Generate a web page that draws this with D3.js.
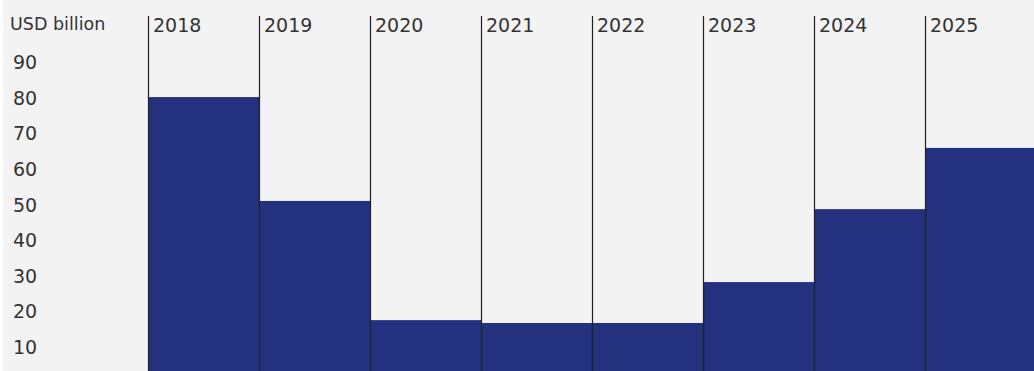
<!DOCTYPE html>
<html>
<head>
<meta charset="utf-8">
<script src="https://cdn.jsdelivr.net/npm/d3@7"></script>
<style>
  body { margin: 0; background: #fff; }
  svg { display: block; font-family: "DejaVu Sans", Verdana, sans-serif; }
</style>
</head>
<body>
<script>
let width = 1034;
let height = 371;

// data
const years = ['2018', '2019', '2020', '2021', '2022', '2023', '2024', '2025'];
const values = [80, 50.8, 17.3, 16.5, 16.5, 28, 48.5, 65.7];
const yTicks = [10, 20, 30, 40, 50, 60, 70, 80, 90];
const unitLabel = 'USD billion';

const svg = d3.select('body')
    .append('svg')
    .attr('width', width)
    .attr('height', height)

svg.append('rect')
    .attr('x', 3)
    .attr('y', 0)
    .attr('width', width - 3)
    .attr('height', height)
    .attr('fill', '#f3f3f3')

const x = d3.scaleBand()
    .domain(years)
    .range([148, 1036])
    .padding(0)

const y = d3.scaleLinear()
    .domain([0, 100])
    .range([381.7, 25.9])

// bars
svg.append('g')
    .attr('fill', '#23317e')
    .selectAll('rect')
    .data(years)
    .join('rect')
    .attr('x', d => x(d))
    .attr('y', (d, i) => y(values[i]))
    .attr('width', x.bandwidth())
    .attr('height', (d, i) => y(0) - y(values[i]))

// year separators
svg.append('g')
    .attr('stroke', '#222')
    .attr('stroke-width', 1.2)
    .selectAll('line')
    .data(years)
    .join('line')
    .attr('x1', d => Math.round(x(d)) + 0.5)
    .attr('x2', d => Math.round(x(d)) + 0.5)
    .attr('y1', 16)
    .attr('y2', height)

// year labels
svg.append('g')
    .selectAll('text')
    .data(years)
    .join('text')
    .attr('x', d => x(d) + 5)
    .attr('y', 31.5)
    .attr('fill', '#333')
    .attr('font-size', 19)
    .text(d => d)

// y axis labels
const yAxis = svg.append('g')
    .attr('transform', 'translate(11,1.2)')
    .call(d3.axisRight(y).tickValues(yTicks).tickSize(0).tickPadding(2))

yAxis.select('.domain').remove()
yAxis.selectAll('text')
    .attr('fill', '#333')
    .attr('font-size', 19)
    .attr('font-family', '"DejaVu Sans", Verdana, sans-serif')

svg.append('text')
    .attr('x', 10)
    .attr('y', 29.5)
    .attr('fill', '#333')
    .attr('font-size', 17.5)
    .text(unitLabel)
</script>
</body>
</html>
